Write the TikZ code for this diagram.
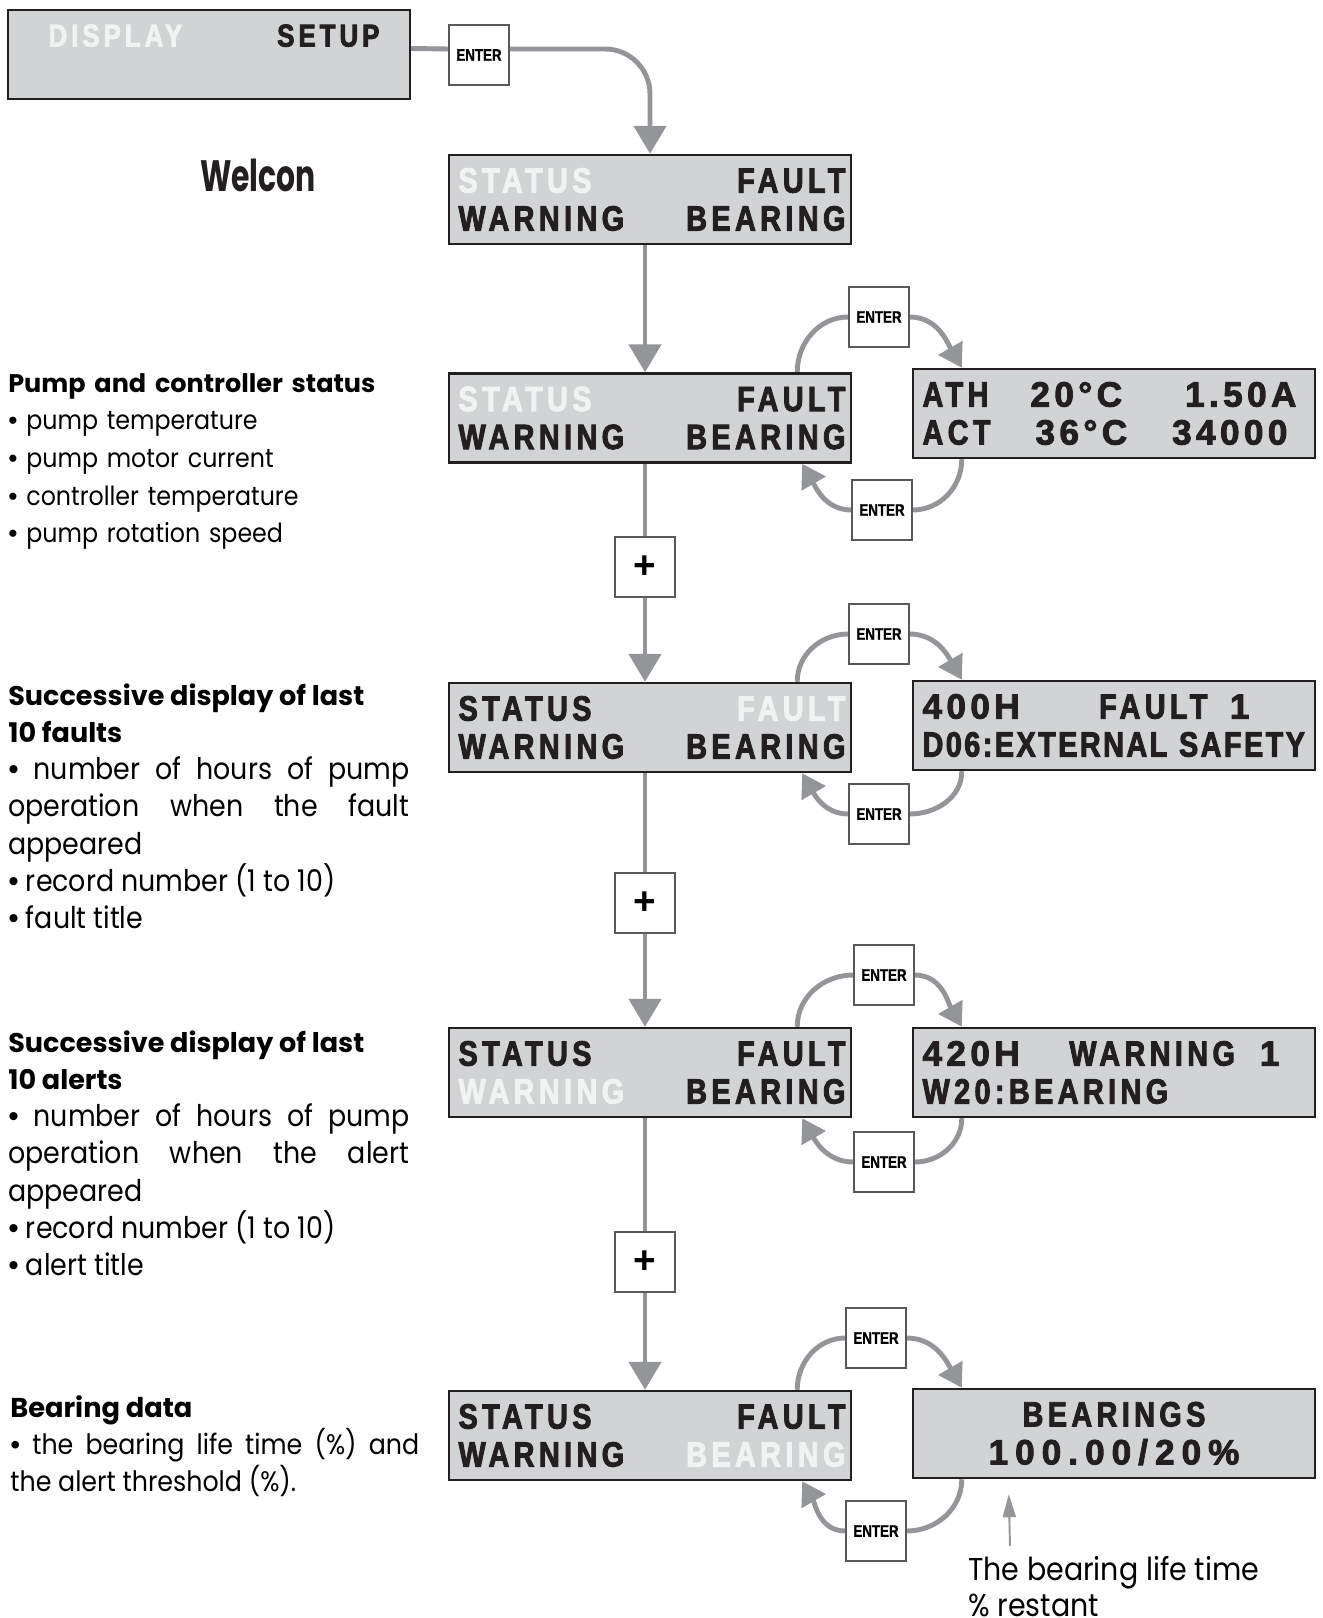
\documentclass[tikz,border=0pt]{standalone}
\usepackage{fontspec}
\setmainfont{Poppins}[FakeStretch=0.9]
\newfontfamily\headfont{Poppins}
\newfontfamily\lcdfont{Liberation Sans}[FakeStretch=0.82,LetterSpace=12.5,FakeBold=2.5]
\newfontfamily\lcdnum{Liberation Sans}[LetterSpace=12.5,FakeBold=2.5]
\newfontfamily\keyfont{Liberation Sans}[FakeStretch=0.8,FakeBold=1]
\newfontfamily\plainsans{Liberation Sans}
\newfontfamily\brandfont{Poppins}[FakeStretch=0.68]
\usetikzlibrary{arrows.meta,positioning,calc,backgrounds}
\definecolor{lcdfill}{HTML}{D1D3D4}
\definecolor{lcdink}{HTML}{231F20}
\definecolor{lcdlit}{HTML}{F1F2F2}
\definecolor{wiregray}{HTML}{939598}
\definecolor{keyedge}{HTML}{58595B}
\newcommand\lit[1]{\textcolor{lcdlit}{#1}}
\newcommand\lcdrow[1]{\hbox to\linewidth{\kern.08cm#1}}
\newcommand\itm{{\plainsans •}\ }
\newcommand\heading[2]{{\headfont\bfseries\fontsize{#1}{21.4}\selectfont #2}}
\tikzset{
  lcd/.style={draw=lcdink,line width=1.4pt,fill=lcdfill,text=lcdink,minimum width=8.04cm,minimum height=1.78cm,text width=7.82cm,inner xsep=.05cm,inner ysep=0pt,align=center,font=\lcdfont\bfseries\fontsize{20}{21.6}\selectfont},
  enterkey/.style={draw=keyedge,line width=.8pt,fill=white,minimum size=1.2cm,inner sep=0pt,font=\keyfont\bfseries\fontsize{9.5}{10}\selectfont},
  plusbox/.style={enterkey,font=\plainsans\bfseries\fontsize{22}{22}\selectfont},
  sidetext/.style={anchor=north west,inner sep=0pt,text width=8.02cm,align=justify,font=\fontsize{17}{21.2}\selectfont},
  notetext/.style={anchor=north west,inner sep=0pt,align=left,font=\fontsize{18}{20.4}\selectfont},
  brandtext/.style={font=\brandfont\bfseries\fontsize{25}{25}\selectfont,text=lcdink},
  wire/.style={draw=wiregray,line width=2.8pt},
  flow/.style={wire,-{Triangle[length=.56cm,width=.64cm]}},
  looparr/.style={wire,-{Triangle[length=.46cm,width=.54cm]}},
  pointer/.style={draw=wiregray,line width=1.1pt,-{Triangle[length=.46cm,width=.26cm]}}
}
\begin{document}
\begin{tikzpicture}[x=.02cm,y=.02cm]
\useasboundingbox (0,0) rectangle (1322,-1618);
% menu column
\node[lcd,font=\lcdfont\bfseries\fontsize{18}{21.6}\selectfont] (setup) at (209,-54.5) {\lcdrow{\kern.62cm\lit{DISPLAY}\hfill SETUP\kern.5cm}\\\mbox{}};
\node[enterkey] (en0) at (479,-55) {ENTER};
\node[lcd] (st1) at (650,-199.5) {\lcdrow{\lit{STATUS}\hfill FAULT}\\\lcdrow{WARNING\hfill BEARING}};
\node[lcd] (st2) at (650,-418) {\lcdrow{\lit{STATUS}\hfill FAULT}\\\lcdrow{WARNING\hfill BEARING}};
\node[lcd] (st3) at (650,-727.5) {\lcdrow{STATUS\hfill\lit{FAULT}}\\\lcdrow{WARNING\hfill BEARING}};
\node[lcd] (st4) at (650,-1072.5) {\lcdrow{STATUS\hfill FAULT}\\\lcdrow{\lit{WARNING}\hfill BEARING}};
\node[lcd] (st5) at (650,-1435.5) {\lcdrow{STATUS\hfill FAULT}\\\lcdrow{WARNING\hfill\lit{BEARING}}};
\node[plusbox] (pl1) at (645,-567) {+};
\node[plusbox] (pl2) at (645,-903) {+};
\node[plusbox] (pl3) at (645,-1262) {+};
% detail screens
\node[lcd] (ath) at (1114,-413.5) {\lcdrow{ATH\hskip 0pt plus 2fil{\lcdnum 20°C}\hskip 0pt plus 3fil{\lcdnum 1.50A}\kern.26cm}\\\lcdrow{ACT\hfill{\lcdnum 36°C}\hfill{\lcdnum 34000}\kern.44cm}};
\node[lcd] (flt) at (1114,-725.5) {\lcdrow{{\lcdnum 400H}\hfill FAULT\kern.45cm{\lcdnum 1}\kern1.2cm}\\\lcdrow{\addfontfeatures{LetterSpace=7}D06:EXTERNAL SAFETY\hfill}};
\node[lcd] (wrn) at (1114,-1072.5) {\lcdrow{{\lcdnum 420H}\hfill WARNING\kern.5cm{\lcdnum 1}\kern.6cm}\\\lcdrow{W20:BEARING\hfill}};
\node[lcd] (brg) at (1114,-1433.5) {BEARINGS\\{\lcdnum\addfontfeatures{LetterSpace=20}100.00/20\%}};
% keys
\node[enterkey] (et2) at (879,-317) {ENTER};
\node[enterkey] (eb2) at (882,-510) {ENTER};
\node[enterkey] (et3) at (879,-634) {ENTER};
\node[enterkey] (eb3) at (879,-814) {ENTER};
\node[enterkey] (et4) at (884,-975) {ENTER};
\node[enterkey] (eb4) at (884,-1162) {ENTER};
\node[enterkey] (et5) at (876,-1338) {ENTER};
\node[enterkey] (eb5) at (876,-1531) {ENTER};
% texts
\node[brandtext] (brand) at (258,-175) {Welcon};
\node[sidetext,align=left,font=\fontsize{15}{21.4}\selectfont] (pumpinfo) at (8,-373) {\heading{14.5}{Pump and controller status}\\\itm pump temperature\\\itm pump motor current\\\itm controller temperature\\\itm pump rotation speed};
\node[sidetext] (faultinfo) at (8,-683) {\heading{15.4}{Successive display of last\\10 faults}\\\itm number of hours of pump\linebreak operation when the fault\linebreak appeared\\\itm record number (1 to 10)\\\itm fault title};
\node[sidetext] (alertinfo) at (8,-1030) {\heading{15.4}{Successive display of last\\10 alerts}\\\itm number of hours of pump\linebreak operation when the alert\linebreak appeared\\\itm record number (1 to 10)\\\itm alert title};
\node[sidetext,text width=8.18cm,font=\fontsize{16}{21.2}\selectfont] (bearinfo) at (10,-1395) {\heading{15.5}{Bearing data}\\\itm the bearing life time (\%) and\linebreak the alert threshold (\%).};
\node[notetext] (lifenote) at (968,-1556) {The bearing life time\\\% restant};
% connectors
\begin{scope}[on background layer]
\draw[wire] ([yshift=.12cm]setup.east) -- ([yshift=.12cm]en0.west);
\draw[flow,rounded corners=.9cm] ([yshift=.12cm]en0.east) -| (st1.north);
\draw[flow] ([xshift=-.1cm]st1.south) -- ([xshift=-.1cm]st2.north);
\foreach \a/\p/\b in {st2/pl1/st3,st3/pl2/st4,st4/pl3/st5}{
  \draw[wire] (\p |- \a.south) -- (\p);
  \draw[flow] (\p) -- (\p |- \b.north);
}
\foreach \scr/\up/\dsp/\dn in {st2/et2/ath/eb2,st3/et3/flt/eb3,st4/et4/wrn/eb4,st5/et5/brg/eb5}{
  \draw[wire] ([xshift=-1.1cm]\scr.north east) to[out=90,in=180] (\up.west);
  \draw[looparr] (\up.east) to[out=0,in=120] ([xshift=1cm]\dsp.north west);
  \draw[wire] ([xshift=1cm]\dsp.south west) to[out=-90,in=0] (\dn.east);
  \draw[looparr] (\dn.west) to[out=180,in=-60] ([xshift=-1cm]\scr.south east);
}
\draw[pointer] ([xshift=.84cm,yshift=.2cm]lifenote.north west) -- ([xshift=1.94cm,yshift=-.3cm]brg.south west);
\end{scope}
\end{tikzpicture}
\end{document}
